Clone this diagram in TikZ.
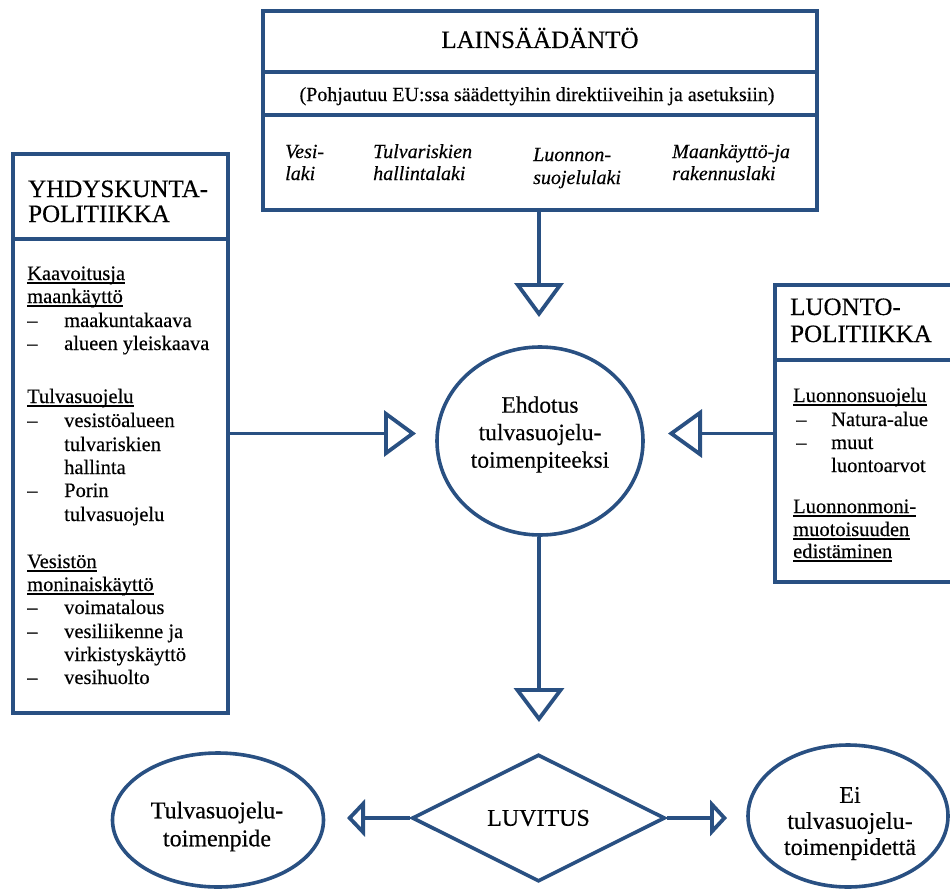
\documentclass[tikz,border=0pt]{standalone}
\usepackage{fontspec}
\setmainfont{Liberation Serif}[UprightFeatures={FakeBold=0.35},ItalicFeatures={FakeBold=0.35}]
\usetikzlibrary{shapes.geometric,arrows.meta}
\definecolor{frame}{RGB}{41,80,130}
\newcommand\ulnode[3]{\node[txt] (#1) at (#2) {#3};
  \draw[uline] ([yshift=-3pt]#1.base west) -- ([yshift=-3pt]#1.base east);}
\begin{document}
\begin{tikzpicture}[x=1pt,y=-1pt,
  frm/.style={draw=frame, line width=3.6pt},
  boxst/.style={frm, rectangle, inner sep=0pt, fill=white},
  ellst/.style={frm, ellipse, inner sep=0pt},
  conn/.style={draw=frame, line width=3.8pt},
  ttl/.style={inner sep=0pt, anchor=base west, font=\fontsize{25}{28}\selectfont},
  txt/.style={inner sep=0pt, anchor=base west, font=\fontsize{20.5}{23}\selectfont},
  lawt/.style={inner sep=0pt, anchor=base west, font=\fontsize{20}{22}\selectfont\itshape},
  ctxt/.style={inner sep=0pt, align=center},
  uline/.style={draw=black, line width=1.2pt}]
\useasboundingbox (0,0) rectangle (950,891);
\clip (0,0) rectangle (950,891);
\fill[white] (0,0) rectangle (950,891);

% ---------- top box ----------
\node[boxst, minimum width=554pt, minimum height=199pt] (law) at (540,110.5) {};
\coordinate (d1) at (0,72);
\coordinate (d2) at (0,115);
\draw[frm] (law.west |- d1) -- (law.east |- d1);
\draw[frm] (law.west |- d2) -- (law.east |- d2);
\node[ttl, anchor=base] (lawtitle) at (540,48) {LAINSÄÄDÄNTÖ};
\node[inner sep=0pt, anchor=base, font=\fontsize{20}{22}\selectfont] (lawsub) at (537,101)
  {(Pohjautuu EU:ssa säädettyihin direktiiveihin ja asetuksiin)};
\node[lawt] (v1) at (285,158) {Vesi-};
\node[lawt] (v2) at (285,180) {laki};
\node[lawt] (t1) at (373,158) {Tulvariskien};
\node[lawt] (t2) at (373,180) {hallintalaki};
\node[lawt] (s1) at (533,161) {Luonnon-};
\node[lawt] (s2) at (533,184) {suojelulaki};
\node[lawt] (m1) at (672,158) {Maankäyttö-ja};
\node[lawt] (m2) at (672,180) {rakennuslaki};

% ---------- left box ----------
\node[boxst, minimum width=215pt, minimum height=559pt] (ybox) at (120.5,433.5) {};
\coordinate (d3) at (0,239);
\draw[frm] (ybox.west |- d3) -- (ybox.east |- d3);
\node[ttl] (yt1) at (28,197) {YHDYSKUNTA-};
\node[ttl] (yt2) at (28,222) {POLITIIKKA};
\ulnode{k1}{27,280}{Kaavoitusja}
\ulnode{k2}{27,303}{maankäyttö}
\node[txt] (k3d) at (27,327) {–};
\node[txt] (k3) at (64,327) {maakuntakaava};
\node[txt] (k4d) at (27,350) {–};
\node[txt] (k4) at (64,350) {alueen yleiskaava};
\ulnode{u1}{27,403}{Tulvasuojelu}
\node[txt] (u2d) at (27,427) {–};
\node[txt] (u2) at (64,427) {vesistöalueen};
\node[txt] (u3) at (64,451) {tulvariskien};
\node[txt] (u4) at (64,474) {hallinta};
\node[txt] (u5d) at (27,497) {–};
\node[txt] (u5) at (64,497) {Porin};
\node[txt] (u6) at (64,521) {tulvasuojelu};
\ulnode{w1}{27,568}{Vesistön}
\ulnode{w2}{27,591}{moninaiskäyttö}
\node[txt] (w3d) at (27,614) {–};
\node[txt] (w3) at (64,614) {voimatalous};
\node[txt] (w4d) at (27,638) {–};
\node[txt] (w4) at (64,638) {vesiliikenne ja};
\node[txt] (w5) at (64,661) {virkistyskäyttö};
\node[txt] (w6d) at (27,684) {–};
\node[txt] (w6) at (64,684) {vesihuolto};

% ---------- right box ----------
\node[boxst, minimum width=190pt, minimum height=297pt] (lbox) at (870,433.5) {};
\coordinate (d4) at (0,360);
\draw[frm] (lbox.west |- d4) -- (lbox.east |- d4);
\node[ttl] (lt1) at (790,315) {LUONTO-};
\node[ttl] (lt2) at (790,342) {POLITIIKKA};
\ulnode{n1}{793,402}{Luonnonsuojelu}
\node[txt] (n2d) at (796,426) {–};
\node[txt] (n2) at (831,426) {Natura-alue};
\node[txt] (n3d) at (796,449) {–};
\node[txt] (n3) at (831,449) {muut};
\node[txt] (n4) at (831,472) {luontoarvot};
\ulnode{n5}{793,513}{Luonnonmoni-}
\ulnode{n6}{793,536}{muotoisuuden}
\ulnode{n7}{793,558}{edistäminen}

% ---------- central ellipse ----------
\node[ellst, minimum width=206pt, minimum height=188pt] (ehd) at (540,441) {};
\node[ctxt, font=\fontsize{23.5}{27.5}\selectfont] (ehdt) at (540,434.5)
  {Ehdotus\\tulvasuojelu-\\toimenpiteeksi};

% ---------- bottom row ----------
\node[frm, diamond, inner sep=0pt, minimum width=253pt, minimum height=127pt,
  font=\fontsize{24}{28}\selectfont] (luv) at (538.5,818) {LUVITUS};
\node[ellst, minimum width=211pt, minimum height=134pt] (tp) at (218,820) {};
\node[ctxt, font=\fontsize{24}{28}\selectfont] (tpt) at (217,826.5)
  {Tulvasuojelu-\\toimenpide};
\node[ellst, minimum width=200pt, minimum height=142pt] (ei) at (848,816) {};
\node[ctxt, font=\fontsize{24}{26}\selectfont] (eit) at (850,823.5)
  {Ei\\tulvasuojelu-\\toimenpidettä};

% ---------- connectors ----------
\coordinate (tT) at (539,317);
\coordinate (tL) at (416,433.5);
\coordinate (tR) at (668,433.5);
\coordinate (tB) at (539,722);
\coordinate (sL) at (347,818);
\coordinate (sR) at (727,818);
\draw[conn, -{Triangle[open,length=34pt,width=49pt]}] (law.south -| tT) -- (tT);
\draw[conn, -{Triangle[open,length=32pt,width=46pt]}] (ybox.east) -- (tL);
\draw[conn, -{Triangle[open,length=34pt,width=48pt]}] (lbox.west) -- (tR);
\draw[conn, -{Triangle[open,length=34pt,width=50pt]}] (ehd.south -| tB) -- (tB);
\draw[conn, -{Triangle[open,length=18pt,width=37pt]}] (luv.west) -- (sL);
\draw[conn, -{Triangle[open,length=17pt,width=36pt]}] (luv.east) -- (sR);
\end{tikzpicture}
\end{document}
